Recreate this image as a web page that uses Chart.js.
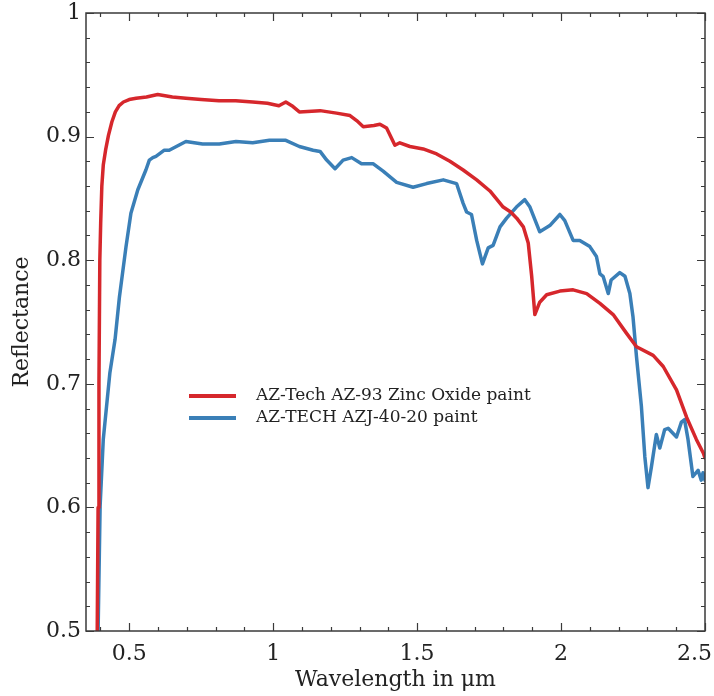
<!DOCTYPE html>
<html>
<head>
<meta charset="utf-8">
<script src="https://cdn.jsdelivr.net/npm/chart.js@4/dist/chart.umd.min.js"></script>
<style>
  html, body { margin: 0; padding: 0; background: #fff; }
  #wrap { width: 714px; height: 696px; }
</style>
</head>
<body>
<div id="wrap"><canvas id="spectrum" width="714" height="696"></canvas></div>
<script>
// Reflectance spectra
const seriesLabels = ['AZ-Tech AZ-93 Zinc Oxide paint', 'AZ-TECH AZJ-40-20 paint'];
const seriesColors = ['#d6272c', '#3a7fb7'];

const az93Wavelength = [
    0.389, 0.392, 0.395, 0.398, 0.401, 0.405, 0.410, 0.418, 0.428, 0.440, 0.452, 0.465,
    0.480, 0.500, 0.524, 0.560, 0.599, 0.650, 0.697, 0.750, 0.812, 0.870, 0.929, 0.980,
    1.020, 1.044, 1.065, 1.091, 1.163, 1.220, 1.267, 1.290, 1.313, 1.350, 1.371, 1.394,
    1.423, 1.440, 1.475, 1.521, 1.568, 1.614, 1.660, 1.707, 1.753, 1.799, 1.825, 1.846,
    1.869, 1.886, 1.898, 1.909, 1.926, 1.950, 1.996, 2.042, 2.089, 2.135, 2.181, 2.227,
    2.262, 2.320, 2.355, 2.401, 2.436, 2.470, 2.494, 2.500
];
const az93Reflectance = [
    0.500, 0.600, 0.700, 0.800, 0.830, 0.860, 0.877, 0.889, 0.901, 0.912, 0.920, 0.925,
    0.928, 0.930, 0.931, 0.932, 0.934, 0.932, 0.931, 0.930, 0.929, 0.929, 0.928, 0.927,
    0.925, 0.928, 0.925, 0.920, 0.921, 0.919, 0.917, 0.913, 0.908, 0.909, 0.910, 0.907,
    0.893, 0.895, 0.892, 0.890, 0.886, 0.880, 0.873, 0.865, 0.856, 0.843, 0.839, 0.834,
    0.827, 0.814, 0.787, 0.756, 0.766, 0.772, 0.775, 0.776, 0.773, 0.765, 0.756, 0.741,
    0.730, 0.723, 0.714, 0.695, 0.673, 0.655, 0.644, 0.640
];

const azj4020Wavelength = [
    0.392, 0.399, 0.410, 0.433, 0.451, 0.466, 0.489, 0.506, 0.530, 0.558, 0.570, 0.582,
    0.593, 0.622, 0.639, 0.697, 0.755, 0.813, 0.871, 0.929, 0.987, 1.044, 1.091, 1.139,
    1.163, 1.186, 1.215, 1.243, 1.273, 1.307, 1.348, 1.382, 1.429, 1.486, 1.533, 1.591,
    1.637, 1.660, 1.672, 1.689, 1.707, 1.727, 1.747, 1.764, 1.788, 1.811, 1.845, 1.874,
    1.892, 1.926, 1.961, 1.996, 2.013, 2.042, 2.065, 2.100, 2.123, 2.135, 2.146, 2.164,
    2.174, 2.204, 2.222, 2.239, 2.250, 2.262, 2.279, 2.291, 2.302, 2.314, 2.331, 2.343,
    2.360, 2.372, 2.401, 2.418, 2.429, 2.441, 2.458, 2.476, 2.487, 2.493, 2.500
];
const azj4020Reflectance = [
    0.500, 0.601, 0.655, 0.709, 0.736, 0.770, 0.811, 0.838, 0.857, 0.873, 0.881, 0.883,
    0.884, 0.889, 0.889, 0.896, 0.894, 0.894, 0.896, 0.895, 0.897, 0.897, 0.892, 0.889,
    0.888, 0.881, 0.874, 0.881, 0.883, 0.878, 0.878, 0.872, 0.863, 0.859, 0.862, 0.865,
    0.862, 0.846, 0.839, 0.837, 0.816, 0.797, 0.810, 0.812, 0.827, 0.834, 0.843, 0.849,
    0.843, 0.823, 0.828, 0.837, 0.832, 0.816, 0.816, 0.811, 0.803, 0.789, 0.787, 0.773,
    0.784, 0.790, 0.787, 0.773, 0.754, 0.722, 0.682, 0.641, 0.616, 0.633, 0.659, 0.648,
    0.663, 0.664, 0.657, 0.669, 0.671, 0.655, 0.625, 0.630, 0.622, 0.628, 0.622
];

// Axis ranges and tick labels
const xRange = [0.35, 2.5];
const yRange = [0.5, 1.0];
const xTickValues = [0.5, 1, 1.5, 2, 2.5];
const xTickLabels = ['0.5', '1', '1.5', '2', '2.5'];
const yTickValues = [0.5, 0.6, 0.7, 0.8, 0.9, 1.0];
const yTickLabels = ['0.5', '0.6', '0.7', '0.8', '0.9', '1'];
const xMinorStep = 0.1;
const yMinorStep = 0.02;

const toPoints = (xs, ys) => xs.map((x, i) => ({ x: x, y: ys[i] }));

const SERIF = '"DejaVu Serif", serif';
const FRAME_COLOR = '#3a3a3a';

// Draws the box and inward ticks on all four sides (matplotlib style)
const frameTicksPlugin = {
    id: 'frameTicks',
    afterDatasetsDraw(chart) {
        const { ctx, chartArea: a, scales } = chart;
        const xs = scales.x, ys = scales.y;
        ctx.save();
        ctx.strokeStyle = FRAME_COLOR;
        ctx.lineWidth = 1.5;
        ctx.strokeRect(a.left, a.top, a.right - a.left, a.bottom - a.top);

        ctx.lineWidth = 1.2;
        const majorLen = 8, minorLen = 4;
        const drawX = (v, len) => {
            const px = Math.round(xs.getPixelForValue(v)) + 0.5;
            ctx.beginPath();
            ctx.moveTo(px, a.bottom); ctx.lineTo(px, a.bottom - len);
            ctx.moveTo(px, a.top); ctx.lineTo(px, a.top + len);
            ctx.stroke();
        };
        const drawY = (v, len) => {
            const py = Math.round(ys.getPixelForValue(v)) + 0.5;
            ctx.beginPath();
            ctx.moveTo(a.left, py); ctx.lineTo(a.left + len, py);
            ctx.moveTo(a.right, py); ctx.lineTo(a.right - len, py);
            ctx.stroke();
        };
        for (let k = Math.ceil(xRange[0] / xMinorStep); k * xMinorStep <= xRange[1] + 1e-9; k++) {
            const v = k * xMinorStep;
            const isMajor = xTickValues.some(t => Math.abs(t - v) < 1e-6);
            drawX(v, isMajor ? majorLen : minorLen);
        }
        for (let k = Math.ceil(yRange[0] / yMinorStep); k * yMinorStep <= yRange[1] + 1e-9; k++) {
            const v = k * yMinorStep;
            const isMajor = yTickValues.some(t => Math.abs(t - v) < 1e-6);
            drawY(v, isMajor ? majorLen : minorLen);
        }
        ctx.restore();
    }
};

// Legend placed inside the plot, like the reference
const innerLegendPlugin = {
    id: 'innerLegend',
    afterDraw(chart) {
        const { ctx } = chart;
        const left = 189, lineLen = 47, gap = 20, top = 396, rowH = 22;
        ctx.save();
        ctx.font = '17px ' + SERIF;
        ctx.textBaseline = 'middle';
        chart.data.datasets.forEach((ds, i) => {
            const y = top + i * rowH;
            ctx.strokeStyle = ds.borderColor;
            ctx.lineWidth = 4;
            ctx.beginPath();
            ctx.moveTo(left, y); ctx.lineTo(left + lineLen, y);
            ctx.stroke();
            ctx.fillStyle = '#222';
            ctx.fillText(ds.label, left + lineLen + gap, y);
        });
        ctx.restore();
    }
};

const chart = new Chart(document.getElementById('spectrum'), {
    type: 'line',
    data: {
        datasets: [
            {
                label: seriesLabels[0],
                data: toPoints(az93Wavelength, az93Reflectance),
                borderColor: seriesColors[0],
                borderWidth: 3.5
            },
            {
                label: seriesLabels[1],
                data: toPoints(azj4020Wavelength, azj4020Reflectance),
                borderColor: seriesColors[1],
                borderWidth: 3.5
            }
        ]
    },
    options: {
        responsive: false,
        animation: false,
        layout: { padding: { top: 13, right: 9, left: 0, bottom: 0 } },
        elements: {
            point: { radius: 0 },
            line: { tension: 0, borderJoinStyle: 'round', borderCapStyle: 'round' }
        },
        scales: {
            x: {
                type: 'linear',
                min: xRange[0],
                max: xRange[1],
                afterBuildTicks: (scale) => { scale.ticks = xTickValues.map(v => ({ value: v })); },
                afterFit: (scale) => {
                    scale.height = 65;
                    scale.paddingLeft = 0;
                    scale.paddingRight = 0;
                },
                grid: { display: false, drawTicks: false },
                border: { display: false },
                ticks: {
                    padding: 10,
                    color: '#222',
                    font: { family: SERIF, size: 22 },
                    maxRotation: 0,
                    // the last label sits a little inside the right edge, as in the reference
                    callback: (value) => {
                        const i = xTickValues.indexOf(value);
                        return i === xTickValues.length - 1 ? xTickLabels[i] + '   ' : xTickLabels[i];
                    }
                },
                title: {
                    display: true,
                    text: 'Wavelength in μm',
                    color: '#222',
                    font: { family: SERIF, size: 22 },
                    padding: { top: 0, bottom: 3 }
                }
            },
            y: {
                type: 'linear',
                min: yRange[0],
                max: yRange[1],
                afterBuildTicks: (scale) => { scale.ticks = yTickValues.map(v => ({ value: v })); },
                afterFit: (scale) => {
                    scale.width = 86;
                    scale.paddingTop = 0;
                    scale.paddingBottom = 0;
                },
                grid: { display: false, drawTicks: false },
                border: { display: false },
                ticks: {
                    padding: 5,
                    color: '#222',
                    font: { family: SERIF, size: 22 },
                    callback: (value) => yTickLabels[yTickValues.indexOf(value)]
                },
                title: {
                    display: true,
                    text: 'Reflectance',
                    color: '#222',
                    font: { family: SERIF, size: 22 },
                    padding: { top: 9, bottom: 0 }
                }
            }
        },
        plugins: {
            legend: { display: false },
            tooltip: { enabled: false }
        }
    },
    plugins: [frameTicksPlugin, innerLegendPlugin]
});
</script>
</body>
</html>
